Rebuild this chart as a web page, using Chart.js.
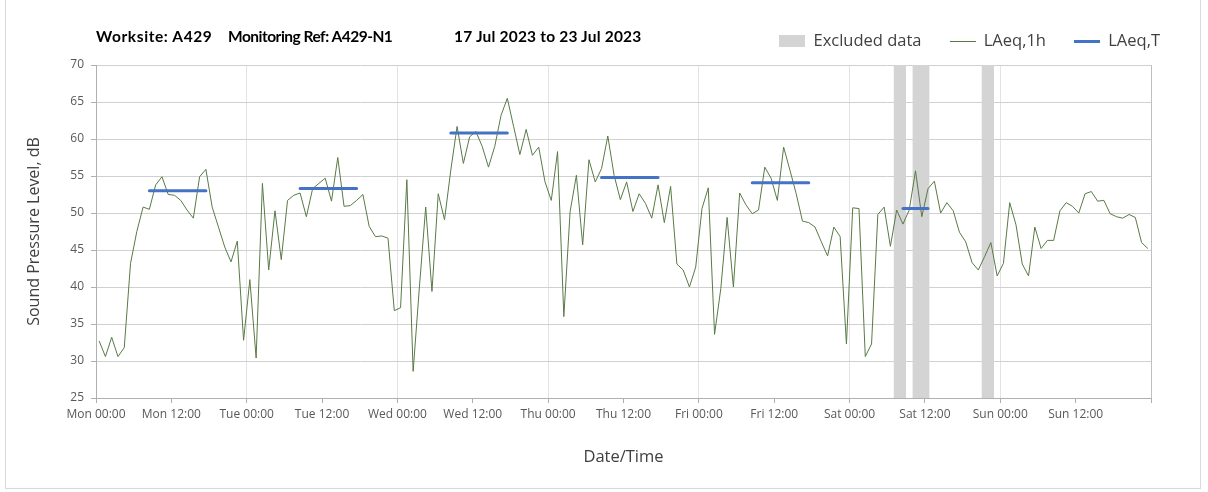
<!DOCTYPE html>
<html>
<head>
<meta charset="utf-8">
<script src="https://cdn.jsdelivr.net/npm/chart.js@4.4.0/dist/chart.umd.min.js"></script>
<style>
  html, body { margin: 0; padding: 0; background: #fff; }
  #wrap { position: relative; width: 1208px; height: 492px; overflow: hidden; }
  #frame { position: absolute; left: 5px; top: -1px; width: 1194px; height: 488px; border: 1px solid #d9d9d9; }
  .ttl { position: absolute; top: 27px; font: bold 15.5px Lato, sans-serif; color: #000; white-space: nowrap; }
  canvas { position: absolute; left: 0; top: 0; }
</style>
</head>
<body>
<div id="wrap">
  <div id="frame"></div>
  <canvas id="noiseChart" width="1208" height="492"></canvas>
  <div class="ttl" style="left:96px; letter-spacing:0.6px">Worksite: A429</div>
  <div class="ttl" style="left:228px; letter-spacing:-0.5px">Monitoring Ref: A429-N1</div>
  <div class="ttl" style="left:454px; letter-spacing:0.2px">17 Jul 2023 to 23 Jul 2023</div>
</div>
<script>
// hourly LAeq,1h values (dB), one per hour, Mon 00:00 -> Sun 23:00
const monLevels = [32.7, 30.6, 33.2, 30.6, 31.8, 43.2, 47.5, 50.8, 50.5, 53.8, 54.9, 52.5, 52.4, 51.7, 50.4, 49.3, 54.9, 55.9, 50.8, 48.1, 45.4, 43.4, 46.2, 32.8];
const tueLevels = [41.0, 30.4, 54.0, 42.3, 50.3, 43.7, 51.7, 52.4, 52.7, 49.5, 53.3, 54.0, 54.7, 51.6, 57.5, 50.9, 51.0, 51.7, 52.5, 48.2, 46.8, 46.9, 46.6, 36.8];
const wedLevels = [37.2, 54.5, 28.6, 40.0, 50.8, 39.4, 52.6, 49.1, 55.8, 61.7, 56.7, 60.3, 61.0, 59.0, 56.2, 59.0, 63.2, 65.5, 61.7, 57.9, 61.3, 57.8, 58.9, 54.2];
const thuLevels = [51.7, 58.3, 36.0, 50.2, 55.1, 45.7, 57.2, 54.2, 56.0, 60.4, 55.1, 51.8, 54.2, 50.2, 52.6, 51.3, 49.3, 53.8, 48.7, 53.6, 43.1, 42.3, 40.0, 42.7];
const friLevels = [50.6, 53.4, 33.6, 39.8, 49.4, 40.0, 52.7, 51.1, 49.9, 50.4, 56.2, 54.7, 51.7, 58.9, 55.8, 52.6, 48.9, 48.7, 48.1, 46.1, 44.2, 48.1, 46.8, 32.3];
const satLevels = [50.7, 50.6, 30.6, 32.3, 49.8, 50.8, 45.5, 50.4, 48.5, 50.4, 55.7, 49.5, 53.3, 54.3, 50.0, 51.4, 50.3, 47.4, 46.1, 43.3, 42.3, 44.1, 46.0, 41.5];
const sunLevels = [43.2, 51.4, 48.4, 43.1, 41.5, 48.1, 45.2, 46.3, 46.3, 50.3, 51.4, 50.9, 50.0, 52.6, 52.9, 51.6, 51.7, 49.9, 49.5, 49.3, 49.8, 49.4, 46.0, 45.2];

// LAeq,T periods (hours from Mon 00:00) and levels
const periodStart = [8.5, 32.5, 56.5, 80.5, 104.5, 128.5];
const periodEnd = [17.5, 41.5, 65.5, 89.5, 113.5, 132.5];
const periodLevel = [53.0, 53.3, 60.8, 54.8, 54.1, 50.6];

// excluded data windows (hours from Mon 00:00)
const excludedStart = [127, 130, 141];
const excludedEnd = [129, 132.75, 143];

const tickLabels = ["Mon 00:00", "Mon 12:00", "Tue 00:00", "Tue 12:00", "Wed 00:00", "Wed 12:00", "Thu 00:00",
  "Thu 12:00", "Fri 00:00", "Fri 12:00", "Sat 00:00", "Sat 12:00", "Sun 00:00", "Sun 12:00"];

const hourly = [].concat(monLevels, tueLevels, wedLevels, thuLevels, friLevels, satLevels, sunLevels);
const hourlyPoints = hourly.map((v, i) => ({ x: i + 0.5, y: v }));

const periodPoints = [];
periodLevel.forEach((lvl, i) => {
  periodPoints.push({ x: periodStart[i], y: lvl }, { x: periodEnd[i], y: lvl }, { x: periodEnd[i] + 0.01, y: null });
});

const excludedPoints = [];
excludedStart.forEach((s, i) => {
  excludedPoints.push({ x: s, y: 70 }, { x: excludedEnd[i], y: 70 }, { x: excludedEnd[i] + 0.01, y: null });
});

const bandColor = "#d4d4d4";
const hourColor = "#587a45";
const periodColor = "#4472c4";

// small canvases used as legend icons
const makeIcon = (w, h, color) => {
  const c = document.createElement("canvas");
  c.width = w;
  c.height = h;
  const ctx = c.getContext("2d");
  ctx.fillStyle = color;
  ctx.fillRect(0, 0, w, h);
  return c;
};
const legendIcons = [makeIcon(26, 12, bandColor), makeIcon(26, 1, hourColor), makeIcon(26, 3, periodColor)];

const textFont = "'Open Sans', sans-serif";

const config = {
  type: "line",
  data: {
    datasets: [
      {
        label: "Excluded data",
        data: excludedPoints,
        borderColor: "rgba(0,0,0,0)",
        backgroundColor: bandColor,
        borderWidth: 0,
        fill: "start",
        pointRadius: 0,
        spanGaps: false,
        order: 3,
      },
      {
        label: "LAeq,1h",
        data: hourlyPoints,
        borderColor: hourColor,
        borderWidth: 1,
        pointRadius: 0,
        tension: 0,
        order: 2,
      },
      {
        label: "LAeq,T",
        data: periodPoints,
        borderColor: periodColor,
        borderWidth: 3,
        borderCapStyle: "round",
        pointRadius: 0,
        spanGaps: false,
        order: 1,
      },
    ],
  },
  options: {
    responsive: false,
    animation: false,
    devicePixelRatio: 1,
    layout: { padding: { top: 5, right: 20, bottom: 0, left: 0 } },
    plugins: {
      tooltip: { enabled: false },
      legend: {
        position: "top",
        align: "end",
        labels: {
          usePointStyle: true,
          pointStyleWidth: 26,
          padding: 28,
          color: "#404040",
          font: { family: textFont, size: 16.5 },
          sort: (a, b) => a.datasetIndex - b.datasetIndex,
          generateLabels: (chart) => {
            const items = Chart.defaults.plugins.legend.labels.generateLabels(chart);
            items.forEach((item) => { item.pointStyle = legendIcons[item.datasetIndex]; });
            return items;
          },
        },
      },
      // empty subtitle used as a spacer between legend and plot
      subtitle: { display: true, text: "", weight: 500, padding: 0, font: { size: 5.5, lineHeight: 1 } },
    },
    scales: {
      x: {
        type: "linear",
        min: 0,
        max: 168,
        afterFit: (scale) => { scale.height = 94; },
        ticks: {
          stepSize: 12,
          autoSkip: false,
          maxRotation: 0,
          padding: 4,
          color: "#595959",
          font: { family: textFont, size: 12 },
          callback: (v) => tickLabels[v / 12] ?? "",
        },
        grid: {
          color: (ctx) => {
            const v = ctx.tick ? ctx.tick.value : 0;
            if (v === 168) return "#bfbfbf";
            return v % 24 === 0 ? "#e3e3e3" : "rgba(0,0,0,0)";
          },
          tickColor: "#b0b0b0",
          tickLength: 5,
        },
        border: { color: "#b0b0b0" },
        title: {
          display: true,
          text: "Date/Time",
          color: "#404040",
          font: { family: textFont, size: 16.5 },
          padding: { top: 0, bottom: 25 },
        },
      },
      y: {
        min: 25,
        max: 70,
        afterFit: (scale) => { scale.width = 96; },
        ticks: {
          stepSize: 5,
          padding: 7,
          color: "#595959",
          font: { family: textFont, size: 12 },
        },
        grid: { color: "#d0d0d0", tickColor: "#b0b0b0", tickLength: 5 },
        border: { color: "#b0b0b0" },
        title: {
          display: true,
          text: "Sound Pressure Level, dB",
          color: "#404040",
          font: { family: textFont, size: 16 },
          padding: { top: 25, bottom: 0 },
        },
      },
      // blank right-hand box so the plot ends short of the legend edge
      yr: {
        position: "right",
        display: true,
        afterFit: (scale) => { scale.width = 37; },
        ticks: { display: false },
        grid: { display: false, drawTicks: false },
        border: { display: false },
      },
    },
  },
};

const noiseChart = new Chart(document.getElementById("noiseChart"), config);
</script>
</body>
</html>
